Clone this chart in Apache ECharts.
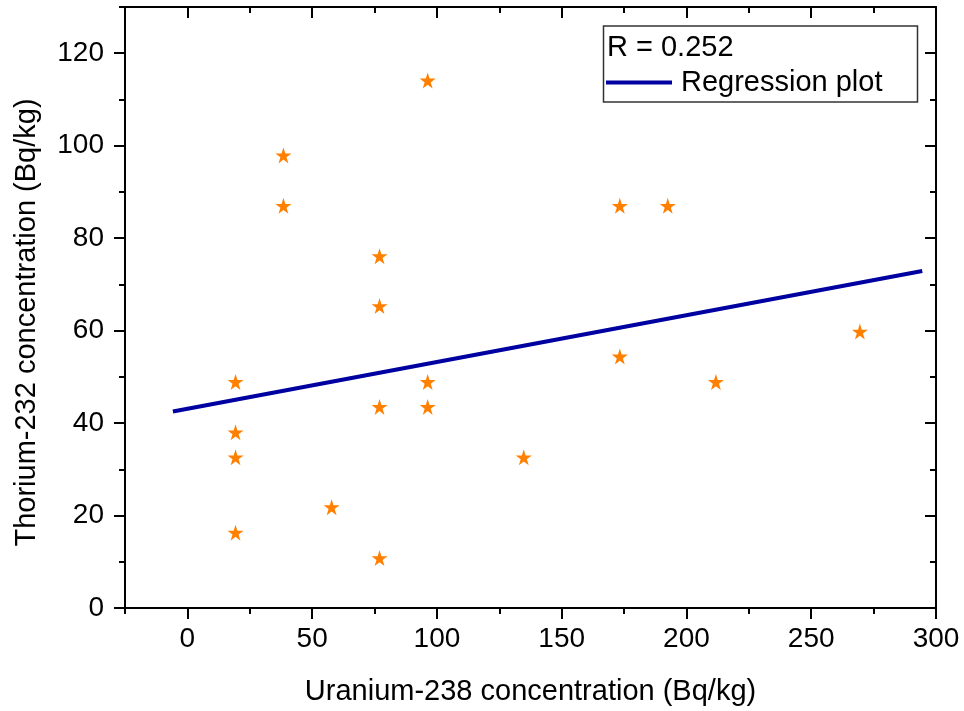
<!DOCTYPE html>
<html><head><meta charset="utf-8">
<script src="https://cdn.jsdelivr.net/npm/echarts@6/dist/echarts.min.js"></script>
<style>html,body{margin:0;padding:0;background:#fff}#c{width:964px;height:711px}</style>
</head><body><div id="c"></div>
<script>
// Uranium-238 (x) and Thorium-232 (y) concentrations, Bq/kg
const uranium = [19.3, 19.3, 19.3, 19.3, 38.5, 38.5, 57.8, 77.0, 77.0, 77.0, 77.0, 96.3, 96.3, 96.3, 134.8, 173.3, 173.3, 192.5, 211.8, 269.5];
const thorium = [48.9, 38.0, 32.6, 16.3, 97.9, 87.0, 21.8, 76.1, 65.3, 43.5, 10.8, 114.1, 48.9, 43.5, 32.6, 87.0, 54.4, 87.0, 48.9, 59.8];
// Regression line end points
const regressionX = [-5.8, 294.5];
const regressionY = [42.5, 72.9];
// Tick values
const xMajorTicks = [0, 50, 100, 150, 200, 250, 300];
const xMinorTicks = [-25, 25, 75, 125, 175, 225, 275];
const yMajorTicks = [0, 20, 40, 60, 80, 100, 120];
const yMinorTicks = [10, 30, 50, 70, 90, 110, 130];
const rText = 'R = 0.252';
const legendName = 'Regression plot';
const xTitle = 'Uranium-238 concentration (Bq/kg)';
const yTitle = 'Thorium-232 concentration (Bq/kg)';

const FONT = '"Liberation Sans", Arial, sans-serif';
const BLACK = '#000';
const tickStyle = {color: BLACK, width: 2};
const starPath = 'path://M50,0 L61.2,34.5 L97.6,34.5 L68.2,55.9 L79.4,90.5 L50,69.1 L20.6,90.5 L31.8,55.9 L2.4,34.5 L38.8,34.5 Z';

function xAxisCfg(pos, ticks, len, inside, showLine, showLabel, extra) {
  return Object.assign({
    type: 'value', gridIndex: 0, position: pos, min: -25, max: 300,
    axisLine: {show: showLine, onZero: false, lineStyle: {color: BLACK, width: 2}},
    axisTick: {show: true, inside: inside, length: len, customValues: ticks, lineStyle: tickStyle},
    axisLabel: showLabel ? {show: true, customValues: ticks, margin: 17, fontSize: 28, color: BLACK, fontFamily: FONT} : {show: false},
    splitLine: {show: false}, minorTick: {show: false}
  }, extra || {});
}
function yAxisCfg(pos, ticks, len, inside, showLine, showLabel, extra) {
  return Object.assign({
    type: 'value', gridIndex: 0, position: pos, min: 0, max: 130,
    axisLine: {show: showLine, onZero: false, lineStyle: {color: BLACK, width: 2}},
    axisTick: {show: true, inside: inside, length: len, customValues: ticks, lineStyle: tickStyle},
    axisLabel: showLabel ? {show: true, customValues: ticks, margin: 21, fontSize: 28, color: BLACK, fontFamily: FONT} : {show: false},
    splitLine: {show: false}, minorTick: {show: false}
  }, extra || {});
}

const chart = echarts.init(document.getElementById('c'), null, {renderer: 'canvas'});
chart.setOption({
  animation: false,
  backgroundColor: '#fff',
  grid: {left: 125, right: 28, top: 7, bottom: 103, containLabel: false},
  xAxis: [
    xAxisCfg('bottom', xMajorTicks, 11, false, true, true, {
      name: xTitle, nameLocation: 'middle', nameGap: 69,
      nameTextStyle: {fontSize: 29, color: BLACK, fontFamily: FONT}
    }),
    xAxisCfg('bottom', xMinorTicks, 6, false, false, false),
    xAxisCfg('top', xMajorTicks, 11, true, true, false),
    xAxisCfg('top', xMinorTicks, 6, true, false, false)
  ],
  yAxis: [
    yAxisCfg('left', yMajorTicks, 11, false, true, true, {
      name: yTitle, nameLocation: 'middle', nameGap: 84, nameRotate: 90,
      nameTextStyle: {fontSize: 29, color: BLACK, fontFamily: FONT, padding: [0, 30, 0, 0]}
    }),
    yAxisCfg('left', yMinorTicks, 6, false, false, false),
    yAxisCfg('right', yMajorTicks, 11, true, true, false),
    yAxisCfg('right', yMinorTicks, 6, true, false, false)
  ],
  legend: {
    data: [legendName], left: 606, top: 68, padding: 0,
    icon: 'rect', itemWidth: 66, itemHeight: 4, z: 6,
    textStyle: {fontSize: 29, color: BLACK, fontFamily: FONT, padding: [0, 0, 0, 4]}
  },
  graphic: [
    {type: 'rect', z: 3, shape: {x: 603.5, y: 26, width: 314, height: 76},
     style: {fill: '#fff', stroke: '#333', lineWidth: 1.5}},
    {type: 'text', z: 6, left: 607, top: 33,
     style: {text: rText, fill: BLACK, font: '29px ' + FONT}}
  ],
  series: [
    {
      name: 'Data', type: 'scatter', xAxisIndex: 0, yAxisIndex: 0,
      symbol: starPath, symbolSize: 16,
      itemStyle: {color: '#FF8000', opacity: 1},
      data: uranium.map((u, i) => [u, thorium[i]])
    },
    {
      name: legendName, type: 'line', xAxisIndex: 0, yAxisIndex: 0,
      showSymbol: false, symbol: 'none',
      lineStyle: {color: '#0000A0', width: 4},
      itemStyle: {color: '#0000A0'},
      data: regressionX.map((x, i) => [x, regressionY[i]])
    }
  ]
});
</script></body></html>
